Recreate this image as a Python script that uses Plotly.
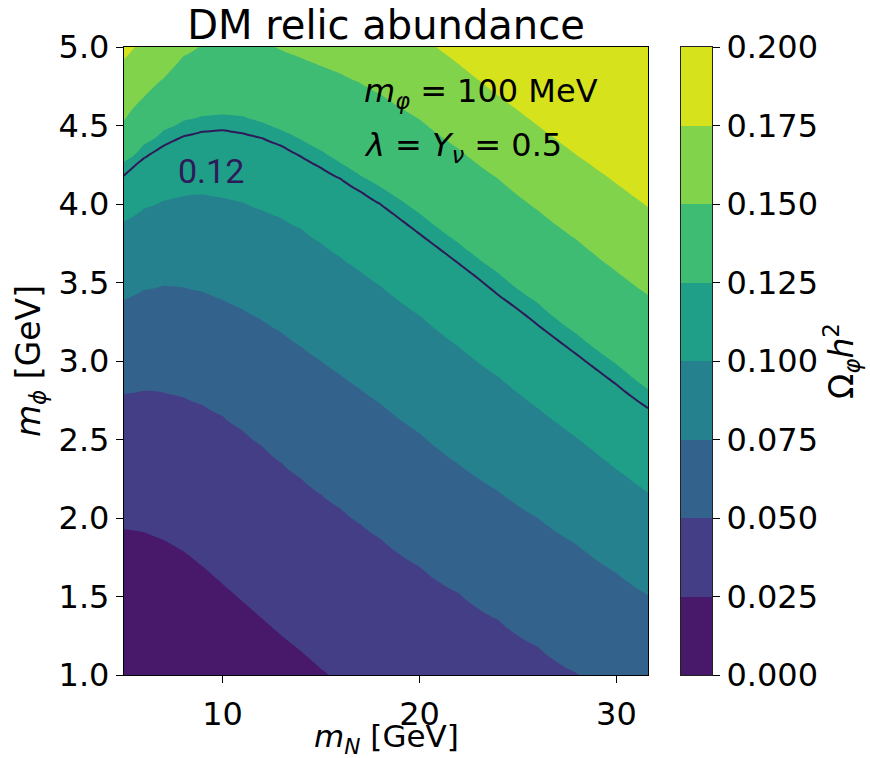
import numpy as np
import plotly.graph_objects as go

# ---------------------------------------------------------------------------
# Relic abundance Omega_phi h^2 over the (m_N, m_phi) plane.
# For every m_N column, the m_phi value [GeV] at which Omega h^2 crosses each
# contour level (values outside 1-5 GeV lie beyond the frame).
# ---------------------------------------------------------------------------
m_n = [5, 6, 7, 8, 9, 10, 11, 12, 13, 14, 15, 16, 17, 18, 20, 22, 24, 26, 28, 30, 31.6]

omega_levels = [0.025, 0.05, 0.075, 0.1, 0.12, 0.125, 0.15, 0.175]
mphi_0025 = [1.93, 1.91, 1.86, 1.79, 1.69, 1.58, 1.47, 1.36, 1.25, 1.15, 1.04,
             0.94, 0.84, 0.74, 0.55, 0.36, 0.18, 0.00, -0.18, -0.36, -0.50]
mphi_0050 = [2.79, 2.81, 2.80, 2.77, 2.72, 2.65, 2.56, 2.46, 2.35, 2.25, 2.15,
             2.06, 1.96, 1.87, 1.69, 1.52, 1.35, 1.18, 1.01, 0.84, 0.71]
mphi_0075 = [3.39, 3.45, 3.48, 3.47, 3.44, 3.39, 3.33, 3.26, 3.18, 3.09, 3.00,
             2.91, 2.82, 2.73, 2.54, 2.34, 2.17, 2.00, 1.83, 1.65, 1.51]
mphi_0100 = [3.89, 3.97, 4.02, 4.05, 4.06, 4.04, 4.01, 3.96, 3.91, 3.84, 3.75,
             3.66, 3.57, 3.48, 3.29, 3.09, 2.90, 2.70, 2.51, 2.31, 2.16]
mphi_0120 = [4.18, 4.29, 4.37, 4.43, 4.46, 4.47, 4.45, 4.42, 4.37, 4.30, 4.23,
             4.16, 4.08, 4.00, 3.81, 3.62, 3.42, 3.23, 3.04, 2.85, 2.70]
mphi_0125 = [4.27, 4.38, 4.47, 4.53, 4.56, 4.57, 4.56, 4.52, 4.47, 4.41, 4.34,
             4.26, 4.18, 4.11, 3.94, 3.75, 3.56, 3.37, 3.17, 2.98, 2.82]
mphi_0150 = [4.53, 4.68, 4.80, 4.94, 5.02, 5.06, 5.07, 5.04, 4.98, 4.93, 4.88,
             4.83, 4.77, 4.70, 4.54, 4.35, 4.16, 3.96, 3.77, 3.57, 3.42]
mphi_0175 = [4.92, 5.06, 5.18, 5.28, 5.35, 5.40, 5.43, 5.44, 5.42, 5.41, 5.38,
             5.34, 5.29, 5.23, 5.08, 4.89, 4.69, 4.50, 4.31, 4.13, 3.98]

# filled-band levels and colorbar ticks
band_edges = [0.0, 0.025, 0.05, 0.075, 0.1, 0.125, 0.15, 0.175, 0.2]
band_colors = ["#48186a", "#433e85", "#33638d", "#26818e",
               "#1f9f88", "#3fbc73", "#82d34c", "#d6e21c"]
marked_level = 0.12
marked_label = "0.12"

# ---------------------------------------------------------------------------
# build the field on a fine m_phi grid (piecewise linear between crossings;
# the 0 and 0.2 ends continue the spacing of the neighbouring crossings)
# ---------------------------------------------------------------------------
crossings = np.array([mphi_0025, mphi_0050, mphi_0075, mphi_0100,
                      mphi_0120, mphi_0125, mphi_0150, mphi_0175])
m_phi = np.linspace(1.0, 5.0, 321)
anchor_vals = [0.0] + omega_levels + [0.2]
omega = np.empty((m_phi.size, len(m_n)))
for j in range(len(m_n)):
    col = list(crossings[:, j])
    low = col[0] - (col[1] - col[0])
    high = col[-1] + (col[-1] - col[-2])
    omega[:, j] = np.interp(m_phi, [low] + col + [high], anchor_vals)

# contour fill colour map: band i is sampled at (i + 1) / 9
n_b = len(band_colors)
fill_scale = [[0.0, band_colors[0]]]
for i, c in enumerate(band_colors):
    fill_scale.append([(i + 1) / (n_b + 1), c])
fill_scale.append([1.0, band_colors[-1]])

# colorbar strip colour map: band midpoints sit at (i + 0.5) / 8
strip_scale = [[0.0, band_colors[0]]]
for i, c in enumerate(band_colors):
    strip_scale.append([(i + 0.5) / n_b, c])
strip_scale.append([1.0, band_colors[-1]])
band_mids = [(a + b) / 2 for a, b in zip(band_edges[:-1], band_edges[1:])]

FONT = "DejaVu Sans"
LINE_COL = "#2d1b59"

fig = go.Figure()

fig.add_trace(go.Contour(
    x=m_n, y=m_phi, z=omega,
    colorscale=fill_scale,
    contours=dict(start=band_edges[0], end=band_edges[-1], size=0.025,
                  coloring="fill", showlines=False),
    line=dict(width=0, smoothing=1.3),
    showscale=False, hoverinfo="skip",
))

fig.add_trace(go.Contour(
    x=m_n, y=m_phi, z=omega,
    contours=dict(start=marked_level, end=marked_level, size=0.1,
                  coloring="none"),
    line=dict(color=LINE_COL, width=2, smoothing=1.3),
    showscale=False, hoverinfo="skip",
))

# colorbar drawn as a one-column heatmap on its own axes
fig.add_trace(go.Heatmap(
    x=[0, 1], y=band_edges, z=[[m] for m in band_mids],
    colorscale=strip_scale, zmin=0.0, zmax=0.2,
    showscale=False, hoverinfo="skip",
    xaxis="x2", yaxis="y2",
))

axis_common = dict(
    showline=True, mirror=True, linecolor="black", linewidth=1.3,
    ticks="outside", ticklen=7, tickwidth=1.3, tickcolor="black",
    showgrid=False, zeroline=False, automargin=False,
    tickfont=dict(family=FONT, size=32, color="black"),
)

fig.update_layout(
    width=870, height=758,
    margin=dict(l=124, r=158, t=47, b=83),
    paper_bgcolor="white", plot_bgcolor="white",
    font=dict(family=FONT, color="black"),
    showlegend=False,
    title=dict(text="DM relic abundance", x=386 / 870, xanchor="center",
               y=1 - 25 / 758, yanchor="middle",
               font=dict(family=FONT, size=40, color="black")),
    xaxis=dict(domain=[0, 524 / 588], range=[5, 31.6],
               tickvals=[10, 20, 30], ticklabelstandoff=3,
               **axis_common),
    yaxis=dict(range=[1, 5], tickvals=[1.0, 1.5, 2.0, 2.5, 3.0, 3.5, 4.0, 4.5, 5.0],
               tickformat=".1f",
               title=dict(text="<i>m</i><sub><i>ϕ</i></sub> [GeV]",
                          font=dict(family=FONT, size=33), standoff=8),
               **axis_common),
    xaxis2=dict(domain=[557 / 588, 1.0], range=[0, 1], anchor="y2",
                showline=True, mirror=True, linecolor="#222222", linewidth=1,
                showticklabels=False, ticks="", showgrid=False, zeroline=False,
                automargin=False),
    yaxis2=dict(domain=[0, 1], range=[0, 0.2], anchor="x2", side="right",
                tickvals=band_edges, tickformat=".3f",
                showline=True, mirror=True, linecolor="#222222", linewidth=1,
                ticks="outside", ticklen=7, tickwidth=1.3, tickcolor="black",
                showgrid=False, zeroline=False, automargin=False,
                tickfont=dict(family=FONT, size=32, color="black"),
                title=dict(text="Ω<sub><i>φ</i></sub><i>h</i><sup>2</sup>",
                           font=dict(family=FONT, size=33), standoff=10)),
)

# x-axis title, placed below the tick labels
fig.add_annotation(x=(386 - 124) / 588, y=(675 - 738) / 628,
                   xref="paper", yref="paper", xanchor="center",
                   yanchor="middle", showarrow=False, borderpad=0,
                   text="<i>m</i><sub><i>N</i></sub> [GeV]",
                   font=dict(family=FONT, size=31, color="black"))

# parameter box and contour label
fig.add_annotation(x=17.07, y=4.705, xref="x", yref="y", xanchor="left",
                   yanchor="middle", showarrow=False,
                   text="<i>m</i><sub><i>φ</i></sub> = 100 MeV",
                   font=dict(family=FONT, size=32, color="black"))
fig.add_annotation(x=17.07, y=4.365, xref="x", yref="y", xanchor="left",
                   yanchor="middle", showarrow=False,
                   text="<i>λ</i> = <i>Y</i><sub><i>ν</i></sub> = 0.5",
                   font=dict(family=FONT, size=32, color="black"))
fig.add_annotation(x=9.42, y=4.21, xref="x", yref="y", xanchor="center",
                   yanchor="middle", showarrow=False, text=marked_label,
                   font=dict(family="Roboto", size=34, color=LINE_COL))

fig.write_html("out.html")
